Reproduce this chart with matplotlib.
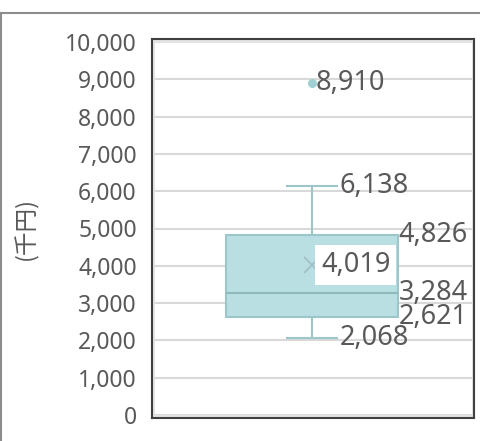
import matplotlib
matplotlib.use("Agg")
import matplotlib.pyplot as plt
from matplotlib.lines import Line2D
from matplotlib.patches import Rectangle

plt.rcParams['font.family'] = ['Noto Sans', 'Noto Sans CJK JP']

# box plot summary values (thousand yen)
whisker_low = 2068
q1 = 2621
median = 3284
mean = 4019
q3 = 4826
whisker_high = 6138
outliers = [8910]

y_ticks = list(range(0, 10001, 1000))
y_label = "(千円)"

TEXT = "#595959"
GRID = "#d9d9d9"
BOX_FILL = "#b9dfe2"
BOX_EDGE = "#9cc6c9"

fig = plt.figure(figsize=(4.81, 4.41), dpi=100)
ax = fig.add_axes([152 / 481, 23 / 441, 322 / 481, 379 / 441])

# outer chart border (partly cropped in the reference)
fig.add_artist(Line2D([0, 1], [1 - 13 / 441, 1 - 13 / 441], transform=fig.transFigure,
                      color="#8c8c8c", lw=1.5))
fig.add_artist(Line2D([0.5 / 481, 0.5 / 481], [0, 1 - 13 / 441], transform=fig.transFigure,
                      color="#8c8c8c", lw=1.5))

stats = [{
    "whislo": whisker_low, "q1": q1, "med": median, "mean": mean,
    "q3": q3, "whishi": whisker_high, "fliers": outliers,
}]
center = 0.497
box_w = 0.534
cap_w = 0.155
ax.bxp(stats, positions=[center], widths=box_w, capwidths=[cap_w],
       showmeans=True, patch_artist=True,
       boxprops=dict(facecolor=BOX_FILL, edgecolor=BOX_EDGE, lw=1.5),
       medianprops=dict(color="#8fb8bb", lw=1.5),
       whiskerprops=dict(color=BOX_EDGE, lw=1.5),
       capprops=dict(color=BOX_EDGE, lw=1.5),
       meanprops=dict(marker="x", markeredgecolor="#a3c1c3", markersize=12, mew=1.3),
       flierprops=dict(marker="o", markerfacecolor="#9fd0d4", markeredgecolor="#9fd0d4",
                       markersize=5.5),
       zorder=3)

ax.set_xlim(0, 1)
ax.set_ylim(-80, 10080)
ax.set_yticks(y_ticks)
ax.set_yticklabels([f"{v:,}" for v in y_ticks])
ax.set_xticks([])
ax.tick_params(axis="y", length=0, pad=11, labelsize=16.5, labelcolor=TEXT)
for v in y_ticks:
    ax.axhline(v, color=GRID, lw=1.5, zorder=1)

for s in ax.spines.values():
    s.set_color("#404040")
    s.set_linewidth(1.5)
ax.add_patch(Rectangle((0.004, 0.006), 0.992, 0.988, transform=ax.transAxes,
                       fill=False, edgecolor="#e4e4e4", lw=2, zorder=1))

ax.set_ylabel(y_label, fontsize=17, color=TEXT, family=['Noto Sans CJK JP'])
ax.yaxis.set_label_coords(-0.352, 0.5)

lab = dict(fontsize=19.5, color=TEXT, va="center", ha="left", zorder=5)
box_right = center + box_w / 2
cap_right = center + cap_w / 2
ax.text(center + 0.012, outliers[0], f"{outliers[0]:,}", **lab)
ax.text(cap_right + 0.008, whisker_high, f"{whisker_high:,}", **lab)
ax.text(cap_right + 0.008, whisker_low, f"{whisker_low:,}", **lab)
ax.text(box_right + 0.002, q3, f"{q3:,}", **lab)
ax.text(box_right + 0.002, median, f"{median:,}", **lab)
ax.text(box_right + 0.002, q1, f"{q1:,}", **lab)
ax.text(center + 0.028, mean, f"{mean:,}",
        bbox=dict(facecolor="white", edgecolor="none", pad=4), **lab)

fig.savefig("out.png", dpi=100)
